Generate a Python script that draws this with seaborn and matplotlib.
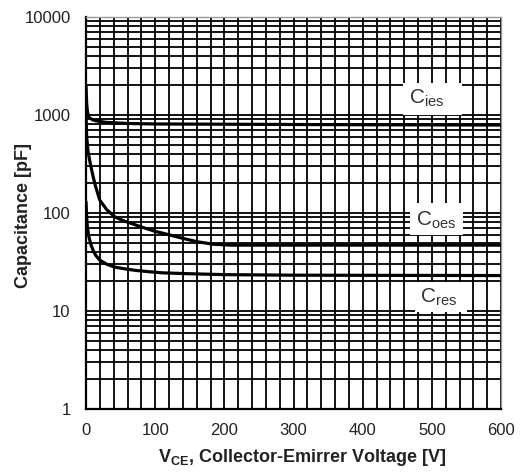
import matplotlib
matplotlib.use("Agg")
import matplotlib.pyplot as plt
import seaborn as sns
import pandas as pd
import numpy as np
from matplotlib.ticker import MultipleLocator, LogLocator, FixedLocator, NullFormatter
from matplotlib.patches import Rectangle

# ---- data ----
cies_v = [0, 1, 2, 3, 5, 10, 15, 30, 60, 100, 200, 400, 600]
cies_c = [2000, 1300, 1100, 1000, 935, 890, 870, 840, 820, 810, 805, 795, 790]

coes_v = [0, 1, 3, 6, 10, 14, 20, 30, 42, 55, 64, 80, 100, 120, 136, 160, 184, 210, 250, 600]
coes_c = [1000, 600, 420, 325, 240, 185, 135, 108, 91, 83, 79, 72, 65, 60, 56, 51, 48, 47, 47, 47]

cres_v = [0, 1, 2, 4, 7, 10, 14, 20, 30, 42, 55, 71, 90, 111, 150, 200, 300, 600]
cres_c = [130, 90, 72, 58, 48, 42, 37, 33, 30, 28, 27, 26, 25.2, 24.5, 24, 23.5, 23.2, 23]

x_ticks = [0, 100, 200, 300, 400, 500, 600]
y_ticks = [1, 10, 100, 1000, 10000]
y_ticklabels = ["1", "10", "100", "1000", "10000"]

labels = [r"$\mathrm{C}_{\mathrm{ies}}$", r"$\mathrm{C}_{\mathrm{oes}}$", r"$\mathrm{C}_{\mathrm{res}}$"]

sns.set_theme(style="white")
plt.rcParams["font.family"] = ["Liberation Sans", "DejaVu Sans"]
plt.rcParams["mathtext.fontset"] = "custom"
plt.rcParams["mathtext.rm"] = "Liberation Sans"
plt.rcParams["mathtext.it"] = "Liberation Sans"
plt.rcParams["mathtext.bf"] = "Liberation Sans:bold"

fig = plt.figure(figsize=(5.25, 4.72), dpi=100)
ax = fig.add_axes([86/525, 1 - 409/472, 415/525, 392/472])

df = pd.concat([
    pd.DataFrame({"V": cies_v, "C": cies_c, "s": "Cies"}),
    pd.DataFrame({"V": coes_v, "C": coes_c, "s": "Coes"}),
    pd.DataFrame({"V": cres_v, "C": cres_c, "s": "Cres"}),
])
for name in ["Cies", "Coes", "Cres"]:
    sub = df[df.s == name]
    sns.lineplot(data=sub, x="V", y="C", ax=ax, color="black", lw=2.3, zorder=4, legend=False)

ax.set_yscale("log")
ax.set_xlim(0, 600)
ax.set_ylim(1, 10000)

ax.xaxis.set_major_locator(FixedLocator(x_ticks))
ax.xaxis.set_minor_locator(MultipleLocator(20))
ax.yaxis.set_major_locator(FixedLocator(y_ticks))
ax.set_yticklabels(y_ticklabels)
ax.yaxis.set_minor_locator(LogLocator(base=10, subs=np.arange(2, 10)))
ax.yaxis.set_minor_formatter(NullFormatter())

ax.grid(True, which="both", color="black", lw=1.3, zorder=1)
ax.set_axisbelow(True)

ax.tick_params(axis="both", which="both", length=0, labelsize=12, colors="#222222")
ax.tick_params(axis="x", pad=10)
ax.tick_params(axis="y", pad=11)

for s in ["left", "bottom"]:
    ax.spines[s].set_color("black")
    ax.spines[s].set_linewidth(1.6)
for s in ["top", "right"]:
    ax.spines[s].set_color("#999999")
    ax.spines[s].set_linewidth(1.0)

ax.set_xlabel(r"V$_{\mathbf{CE}}$, Collector-Emirrer Voltage [V]", fontsize=13, fontweight="bold", color="#222222")
ax.xaxis.set_label_coords((302 - 86) / 415, -(457 - 409) / 392)
ax.xaxis.label.set_va("center")
ax.set_ylabel("Capacitance [pF]", fontsize=13, fontweight="bold", color="#222222")
ax.yaxis.set_label_coords((24 - 86) / 415, (409 - 215) / 392)
ax.yaxis.label.set_va("center")

# white label boxes (axes fractions) and label text anchors
boxes = [(0.764, 0.750, 0.141, 0.082), (0.781, 0.444, 0.127, 0.082), (0.793, 0.247, 0.125, 0.077)]
anchors = [(0.778, 0.779), (0.795, 0.468), (0.806, 0.272)]
for txt, (bx, by, bw, bh), (tx, ty) in zip(labels, boxes, anchors):
    ax.add_patch(Rectangle((bx, by), bw, bh, transform=ax.transAxes, facecolor="white",
                           edgecolor="none", zorder=5))
    ax.text(tx, ty, txt, transform=ax.transAxes, fontsize=15, ha="left", va="baseline",
            color="#333333", zorder=6)

fig.savefig("out.png", dpi=100)
